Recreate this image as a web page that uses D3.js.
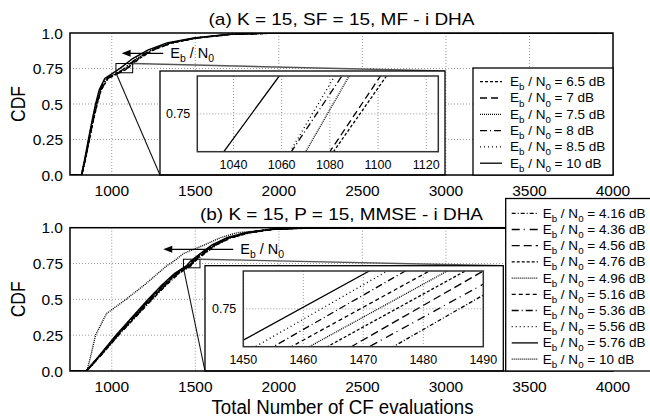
<!DOCTYPE html>
<html lang="en">
<head>
<meta charset="UTF-8">
<title>CDF of CF evaluations</title>
<script src="https://d3js.org/d3.v7.min.js"></script>
<style>
  body { margin: 0; background: #fff; }
  svg { display: block; font-family: "Liberation Sans", Arial, sans-serif; }
  text { white-space: pre; }
</style>
</head>
<body>
<script>
// ---- values ----
const xTicks = [1000, 1500, 2000, 2500, 3000, 3500, 4000];
const yTicks = [0, 0.25, 0.5, 0.75, 1];
const yTickLabels = ["0.0", "0.25", "0.5", "0.75", "1.0"];

// (a) CDF levels and the number of evaluations where each curve reaches them
const topLevels = [0, 0.1, 0.25, 0.4, 0.5, 0.6, 0.68, 0.74, 0.76, 0.82, 0.88, 0.93, 0.965, 0.99, 1];
const top65 = [821, 841, 867, 893, 913, 937, 978, 1081.5, 1103.5, 1165, 1249, 1361, 1515, 1715, 2010];
const top7  = [821, 840, 866, 892, 912, 936, 976, 1080, 1101, 1162, 1246, 1358, 1512, 1712, 2000];
const top75 = [820, 839, 864, 890, 909, 932, 970, 1070, 1088, 1152, 1238, 1351, 1506, 1706, 1990];
const top8  = [819, 838, 863, 888, 907, 930, 967, 1064, 1085, 1148, 1235, 1348, 1503, 1703, 1980];
const top85 = [819, 838, 862, 887, 906, 929, 965, 1063.5, 1082, 1145, 1232, 1345, 1500, 1700, 1970];
const top10 = [818, 836, 860, 885, 903, 925, 958, 1036, 1059, 1125, 1215, 1330, 1490, 1690, 1950];
const topNames = ["6.5", "7", "7.5", "8", "8.5", "10"];

// (b)
const botLevels = [0, 0.1, 0.25, 0.4, 0.5, 0.6, 0.68, 0.735, 0.765, 0.82, 0.88, 0.93, 0.965, 0.99, 1];
const bot416 = [850, 928, 1041, 1162, 1243, 1327, 1402, 1475, 1497, 1557, 1627, 1717, 1827, 1977, 2230];
const bot436 = [849, 927, 1039, 1159, 1240, 1323, 1398, 1471, 1494, 1553, 1623, 1713, 1823, 1973, 2220];
const bot456 = [849, 926, 1037, 1156, 1236, 1320, 1395, 1468, 1490, 1550, 1620, 1710, 1820, 1970, 2210];
const bot476 = [848, 925, 1035, 1153, 1233, 1316, 1391, 1464, 1487, 1546, 1616, 1706, 1816, 1966, 2200];
const bot496 = [848, 924, 1033, 1151, 1230, 1313, 1388, 1461, 1484, 1543, 1613, 1703, 1813, 1963, 2190];
const bot516 = [847, 923, 1031, 1148, 1227, 1310, 1385, 1458, 1481, 1540, 1610, 1700, 1810, 1960, 2180];
const bot536 = [847, 922, 1029, 1145, 1224, 1306, 1381, 1455, 1477, 1536, 1606, 1696, 1806, 1956, 2170];
const bot556 = [846, 921, 1027, 1143, 1221, 1303, 1378, 1452, 1474, 1533, 1603, 1693, 1803, 1953, 2160];
const bot576 = [846, 920, 1025, 1140, 1218, 1300, 1375, 1448, 1471, 1530, 1600, 1690, 1800, 1950, 2150];
const bot10  = [852, 873, 903, 968, 1085, 1195, 1275, 1330, 1370, 1430, 1555, 1650, 1750, 1990, 2300];
const botNames = ["4.16", "4.36", "4.56", "4.76", "4.96", "5.16", "5.36", "5.56", "5.76", "10"];

const topInsetTicks = [1040, 1060, 1080, 1100, 1120];
const botInsetTicks = [1450, 1460, 1470, 1480, 1490];

// line styles
const topDash = ["3,2", "7,4", "1,1", "7,3,1,3", "1,3", null];
const botDash = ["4,2,1,2", "8,4,1,5", "8,4", "3,2", "1,1", "4,3", "7,3,1,3", "1,3", null, "1,1"];

const topSeries = [top65, top7, top75, top8, top85, top10].map((xs, i) => ({
  name: topNames[i], dash: topDash[i],
  pts: [[750, 0]].concat(xs.map((v, j) => [v, topLevels[j]]), [[4000, 1]])
}));
const botSeries = [bot416, bot436, bot456, bot476, bot496, bot516, bot536, bot556, bot576, bot10].map((xs, i) => ({
  name: botNames[i], dash: botDash[i],
  pts: [[750, 0]].concat(xs.map((v, j) => [v, botLevels[j]]), [[4000, 1]])
}));

const W = 650, H = 419;
const svg = d3.select("body").append("svg").attr("width", W).attr("height", H);
svg.append("rect").attr("width", W).attr("height", H).attr("fill", "#fff");

const x = d3.scaleLinear().domain([750, 4000]).range([70, 613]);

// subscript text "E_b / N_0 ..."
function ebn0(t, fs, tail) {
  const sub = fs * 0.72, dy = fs * 0.3;
  t.append("tspan").text("E");
  t.append("tspan").attr("font-size", sub).attr("dy", dy).text("b");
  t.append("tspan").attr("dy", -dy).text(" / N");
  t.append("tspan").attr("font-size", sub).attr("dy", dy).text("0");
  t.append("tspan").attr("dy", -dy).text(tail);
}

function panel(o) {
  const y = d3.scaleLinear().domain([0, 1]).range([o.bottom, o.top]);
  const g = svg.append("g");
  const clipId = "clip" + o.id;
  svg.append("clipPath").attr("id", clipId).append("rect")
    .attr("x", 70).attr("y", o.top).attr("width", 543).attr("height", o.bottom - o.top);

  // grid
  g.selectAll(".gx").data(xTicks.slice(0, -1)).join("line")
    .attr("x1", d => x(d)).attr("x2", d => x(d)).attr("y1", o.top).attr("y2", o.bottom)
    .attr("stroke", "#999").attr("stroke-dasharray", "1,2");
  g.selectAll(".gy").data(yTicks.slice(1, -1)).join("line")
    .attr("x1", 70).attr("x2", 613).attr("y1", d => y(d)).attr("y2", d => y(d))
    .attr("stroke", "#999").attr("stroke-dasharray", "1,2");

  // tick labels
  g.selectAll(".tx").data(xTicks).join("text")
    .attr("x", d => x(d)).attr("y", o.bottom + 21).attr("text-anchor", "middle")
    .attr("font-size", 15.5).text(d => d);
  g.selectAll(".ty").data(yTicks).join("text")
    .attr("x", 63).attr("y", d => y(d)).attr("dy", "0.36em").attr("text-anchor", "end")
    .attr("font-size", 15.5).text((d, i) => yTickLabels[i]);
  g.append("text").attr("transform", `translate(25,${(o.top + o.bottom) / 2}) rotate(-90)`)
    .attr("text-anchor", "middle").attr("font-size", 21).attr("textLength", 36)
    .attr("lengthAdjust", "spacingAndGlyphs").text("CDF");

  // curves
  const line = d3.line().x(d => x(d[0])).y(d => y(d[1]));
  g.append("g").attr("clip-path", `url(#${clipId})`)
    .selectAll("path").data(o.series).join("path")
    .attr("d", d => line(d.pts)).attr("fill", "none").attr("stroke", "#000")
    .attr("stroke-width", 1.4).attr("stroke-dasharray", d => d.dash);

  // arrow
  const ay = y(o.arrow[2]);
  g.append("line").attr("x1", x(o.arrow[1])).attr("x2", x(o.arrow[0]) + 7)
    .attr("y1", ay).attr("y2", ay).attr("stroke", "#000").attr("stroke-width", 1.3);
  const ax = x(o.arrow[0]);
  g.append("path").attr("d", `M${ax},${ay}L${ax + 9},${ay - 3.5}L${ax + 9},${ay + 3.5}Z`).attr("fill", "#000");
  const at = g.append("text").attr("x", x(o.arrow[1]) + 7).attr("y", ay).attr("dy", "0.3em")
    .attr("font-size", 14.5);
  ebn0(at, 14.5, "");

  // zoom marker + connectors
  const mx0 = x(o.mark[0]), mx1 = x(o.mark[1]), my0 = y(o.mark[2]), my1 = y(o.mark[3]);
  g.append("rect").attr("x", mx0).attr("y", my1).attr("width", mx1 - mx0).attr("height", my0 - my1)
    .attr("fill", "none").attr("stroke", "#000").attr("stroke-width", 1);
  const f = o.frame;
  g.append("line").attr("x1", mx0).attr("y1", my0).attr("x2", f[0]).attr("y2", o.bottom)
    .attr("stroke", "#111").attr("stroke-width", 1.1);
  g.append("line").attr("x1", mx1).attr("y1", my1).attr("x2", f[2]).attr("y2", f[1])
    .attr("stroke", "#555").attr("stroke-width", 1.4);

  // inset
  g.append("rect").attr("x", f[0]).attr("y", f[1]).attr("width", f[2] - f[0]).attr("height", o.bottom - f[1])
    .attr("fill", "#fff").attr("stroke", "#000").attr("stroke-width", 1.3);
  const ib = o.inner;
  const xi = d3.scaleLinear().domain(o.ixDomain).range([ib[0], ib[2]]);
  const yi = d3.scaleLinear().domain(o.iyDomain).range([ib[3], ib[1]]);
  const ig = g.append("g");
  ig.selectAll(".igx").data(o.iTicks).join("line")
    .attr("x1", d => xi(d)).attr("x2", d => xi(d)).attr("y1", ib[1]).attr("y2", ib[3])
    .attr("stroke", "#999").attr("stroke-dasharray", "1,2");
  ig.append("line").attr("x1", ib[0]).attr("x2", ib[2]).attr("y1", yi(0.75)).attr("y2", yi(0.75))
    .attr("stroke", "#999").attr("stroke-dasharray", "1,2");
  const iclip = "iclip" + o.id;
  svg.append("clipPath").attr("id", iclip).append("rect")
    .attr("x", ib[0]).attr("y", ib[1]).attr("width", ib[2] - ib[0]).attr("height", ib[3] - ib[1]);
  const iline = d3.line().x(d => xi(d[0])).y(d => yi(d[1]));
  ig.append("g").attr("clip-path", `url(#${iclip})`)
    .selectAll("path").data(o.series).join("path")
    .attr("d", d => iline(d.pts)).attr("fill", "none").attr("stroke", "#000")
    .attr("stroke-width", 1.3).attr("stroke-dasharray", d => d.dash);
  ig.append("rect").attr("x", ib[0]).attr("y", ib[1]).attr("width", ib[2] - ib[0]).attr("height", ib[3] - ib[1])
    .attr("fill", "none").attr("stroke", "#333").attr("stroke-width", 1.5);
  ig.selectAll(".itx").data(o.iTicks).join("text")
    .attr("x", d => xi(d)).attr("y", ib[3] + 17).attr("text-anchor", "middle")
    .attr("font-size", 12.5).text(d => d);
  ig.append("text").attr("x", ib[0] - 7).attr("y", yi(0.75)).attr("dy", "0.36em")
    .attr("text-anchor", "end").attr("font-size", 12.5).text("0.75");

  // frame
  g.append("rect").attr("x", 70).attr("y", o.top).attr("width", 543).attr("height", o.bottom - o.top)
    .attr("fill", "none").attr("stroke", "#000").attr("stroke-width", 1.5);

  // title
  svg.append("text").attr("x", 341.5).attr("y", o.top - 8).attr("text-anchor", "middle")
    .attr("font-size", 17).attr("textLength", o.titleLen).attr("lengthAdjust", "spacingAndGlyphs")
    .text(o.title);

  // legend
  const L = o.legend;
  const lg = svg.append("g");
  lg.append("rect").attr("x", L.x0).attr("y", L.y0).attr("width", L.x1 - L.x0).attr("height", L.y1 - L.y0)
    .attr("fill", "#fff").attr("stroke", "#000").attr("stroke-width", 1.3);
  o.series.forEach((s, i) => {
    const ry = L.row0 + i * L.step;
    lg.append("line").attr("x1", L.s0).attr("x2", L.s1).attr("y1", ry).attr("y2", ry)
      .attr("stroke", "#000").attr("stroke-width", 1.3).attr("stroke-dasharray", s.dash);
    const t = lg.append("text").attr("x", L.tx).attr("y", ry).attr("dy", "0.33em").attr("font-size", 13.5);
    ebn0(t, 13.5, ` = ${s.name} dB`);
  });
}

panel({
  id: "a", top: 33, bottom: 175, series: topSeries,
  title: "(a) K = 15, SF = 15, MF - i DHA", titleLen: 266,
  arrow: [1059, 1308, 0.857],
  mark: [1025, 1125, 0.72, 0.785],
  frame: [160, 71, 445],
  inner: [197.3, 76, 438.3, 151.7],
  ixDomain: [1025, 1125], iyDomain: [0.74, 0.76], iTicks: topInsetTicks,
  legend: { x0: 473, y0: 68, x1: 613, y1: 175, row0: 81.7, step: 16.3, s0: 480, s1: 502, tx: 510 }
});

panel({
  id: "b", top: 227.7, bottom: 371, series: botSeries,
  title: "(b) K = 15, P = 15, MMSE - i DHA", titleLen: 283,
  arrow: [1308, 1727, 0.849],
  mark: [1429, 1528, 0.72, 0.78],
  frame: [205, 265.7, 503.3],
  inner: [243.3, 271, 483.3, 346.7],
  ixDomain: [1450, 1490], iyDomain: [0.735, 0.765], iTicks: botInsetTicks,
  legend: { x0: 505.7, y0: 198.5, x1: 660, y1: 371, row0: 213.3, step: 16.2, s0: 511.7, s1: 538, tx: 542.7 }
});

svg.append("text").attr("x", 342.5).attr("y", 414).attr("text-anchor", "middle")
  .attr("font-size", 20).attr("textLength", 262).attr("lengthAdjust", "spacingAndGlyphs")
  .text("Total Number of CF evaluations");
</script>
</body>
</html>
